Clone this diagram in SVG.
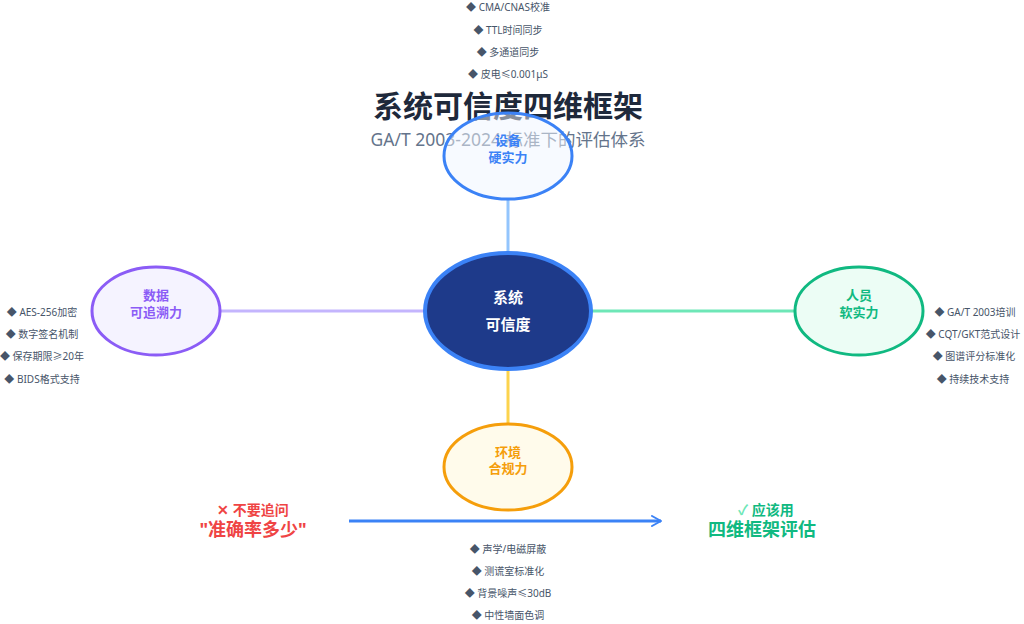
<svg xmlns="http://www.w3.org/2000/svg" width="1024" height="624" viewBox="0 0 1024 624">
<defs>
<style>
text{font-family:"Noto Sans","Noto Sans CJK SC",sans-serif;text-anchor:middle}
.title{font-size:30px;font-weight:bold;fill:#1e293b}
.sub{font-size:17.5px;fill:#64748b}
.lbl{font-size:13px;font-weight:bold}
.item{font-size:10px;fill:#475569}
.conn{stroke-width:3;fill:none}
</style>
<marker id="arr" viewBox="0 0 12 12" refX="10" refY="6" markerWidth="12" markerHeight="12" markerUnits="userSpaceOnUse" orient="auto">
<path d="M1,1 L10,6 L1,11" fill="none" stroke="#3b82f6" stroke-width="2" stroke-linecap="round" stroke-linejoin="round"/>
</marker>
</defs>
<rect width="1024" height="624" fill="#ffffff"/>
<g id="title">
<text class="title" x="508" y="117">系统可信度四维框架</text>
<text class="sub" x="508" y="146">GA/T 2003-2024 标准下的评估体系</text>
</g>
<g id="connectors">
<line class="conn" x1="508" y1="199" x2="508" y2="253" stroke="#93c5fd"/>
<line class="conn" x1="221" y1="311" x2="424" y2="311" stroke="#c4b5fd"/>
<line class="conn" x1="592" y1="311" x2="794" y2="311" stroke="#6ee7b7"/>
<line class="conn" x1="508" y1="370" x2="508" y2="423" stroke="#fcd34d"/>
<line class="conn" x1="349" y1="521" x2="661" y2="521" stroke="#3b82f6" marker-end="url(#arr)"/>
</g>
<g id="node-hardware">
<ellipse cx="508" cy="156" rx="64" ry="43" fill="#eff6ff" fill-opacity="0.5" stroke="#3b82f6" stroke-width="3"/>
<text class="lbl" x="508" y="145" fill="#3b82f6">设备</text>
<text class="lbl" x="508" y="162" fill="#3b82f6">硬实力</text>
</g>
<g id="list-hardware">
<text class="item" x="508" y="11">◆ CMA/CNAS校准</text>
<text class="item" x="508" y="34">◆ TTL时间同步</text>
<text class="item" x="508" y="56">◆ 多通道同步</text>
<text class="item" x="508" y="78">◆ 皮电≤0.001μS</text>
</g>
<g id="node-center">
<ellipse cx="508" cy="311" rx="83" ry="58" fill="#1e3a8a" stroke="#3b82f6" stroke-width="4"/>
<text x="508" y="303" fill="#ffffff" style="font-size:15px;font-weight:bold">系统</text>
<text x="508" y="330" fill="#ffffff" style="font-size:15px;font-weight:bold">可信度</text>
</g>
<g id="node-data">
<ellipse cx="156" cy="311" rx="64" ry="44" fill="#f5f3ff" stroke="#8b5cf6" stroke-width="3"/>
<text class="lbl" x="156" y="300" fill="#8b5cf6">数据</text>
<text class="lbl" x="156" y="317" fill="#8b5cf6">可追溯力</text>
</g>
<g id="list-data">
<text class="item" x="42" y="316">◆ AES-256加密</text>
<text class="item" x="42" y="338">◆ 数字签名机制</text>
<text class="item" x="42" y="360">◆ 保存期限≥20年</text>
<text class="item" x="42" y="383">◆ BIDS格式支持</text>
</g>
<g id="node-people">
<ellipse cx="859" cy="311" rx="64" ry="44" fill="#ecfdf5" stroke="#10b981" stroke-width="3"/>
<text class="lbl" x="859" y="300" fill="#10b981">人员</text>
<text class="lbl" x="859" y="317" fill="#10b981">软实力</text>
</g>
<g id="list-people">
<text class="item" x="975" y="316">◆ GA/T 2003培训</text>
<text class="item" x="973" y="338">◆ CQT/GKT范式设计</text>
<text class="item" x="974" y="360">◆ 图谱评分标准化</text>
<text class="item" x="973" y="383">◆ 持续技术支持</text>
</g>
<g id="node-env">
<ellipse cx="508" cy="467" rx="64" ry="43" fill="#fffbeb" stroke="#f59e0b" stroke-width="3"/>
<text class="lbl" x="508" y="457" fill="#f59e0b">环境</text>
<text class="lbl" x="508" y="473" fill="#f59e0b">合规力</text>
</g>
<g id="list-env">
<text class="item" x="508" y="553">◆ 声学/电磁屏蔽</text>
<text class="item" x="508" y="575">◆ 测谎室标准化</text>
<text class="item" x="508" y="597">◆ 背景噪声≤30dB</text>
<text class="item" x="508" y="619">◆ 中性墙面色调</text>
</g>
<g id="dont">
<text x="253" y="515" fill="#ef4444" style="font-size:14px;font-weight:bold">✕ 不要追问</text>
<text x="253" y="536" fill="#ef4444" style="font-size:18px;font-weight:bold">"准确率多少"</text>
</g>
<g id="do">
<text x="766" y="515" fill="#10b981" style="font-size:14px;font-weight:bold"><tspan fill="#6ee7b7">✓</tspan> 应该用</text>
<text x="762" y="536" fill="#10b981" style="font-size:18px;font-weight:bold">四维框架评估</text>
</g>
</svg>
